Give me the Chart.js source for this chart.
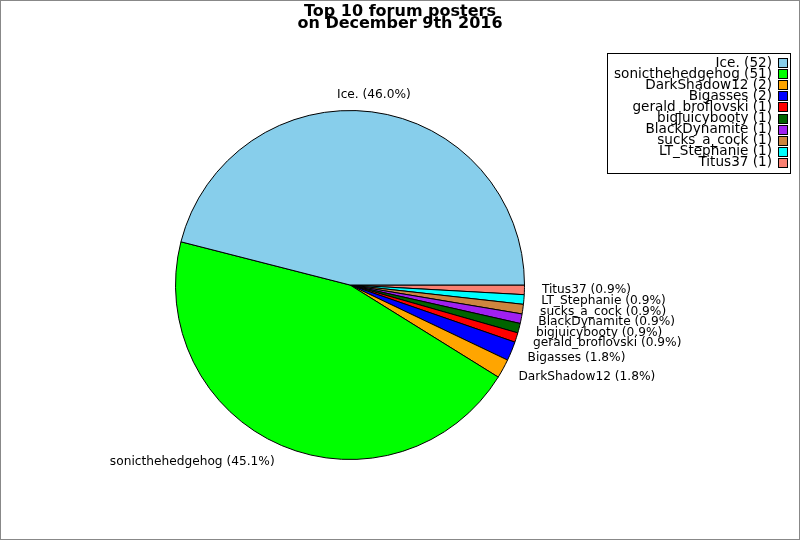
<!DOCTYPE html>
<html>
<head>
<meta charset="utf-8">
<title>Top 10 forum posters</title>
<script src="https://cdn.jsdelivr.net/npm/chart.js@4/dist/chart.umd.min.js"></script>
<style>
  html, body { margin: 0; padding: 0; background: #fff; }
  #wrap { width: 800px; height: 540px; position: relative; }
</style>
</head>
<body>
<div id="wrap"><canvas id="grafico"></canvas></div>
<script>
// Dados do gráfico
const posters = ['Ice.', 'sonicthehedgehog', 'DarkShadow12', 'Bigasses', 'gerald_broflovski',
                 'bigjuicybooty', 'BlackDynamite', 'sucks_a_cock', 'LT_Stephanie', 'Titus37'];
const posts = [52, 51, 2, 2, 1, 1, 1, 1, 1, 1];
const colors = ['#87CEEB', '#00FF00', '#FFA500', '#0000FF', '#FF0000',
                '#006400', '#A020F0', '#CD853F', '#00FFFF', '#FA8072'];
const titleLines = ['Top 10 forum posters', 'on December 9th 2016'];

const total = posts.reduce((a, b) => a + b, 0);

// Chart.js desenha no sentido horário, a referência no anti-horário: inverte a ordem
const revNames = posters.slice().reverse();
const revPosts = posts.slice().reverse();
const revColors = colors.slice().reverse();

// Plugin para título, legenda, rótulos e moldura
const extras = {
    id: 'extras',
    afterDraw(chart) {
        const ctx = chart.ctx;
        ctx.save();

        // moldura
        ctx.strokeStyle = '#888';
        ctx.lineWidth = 1;
        ctx.strokeRect(0.5, 0.5, 799, 539);

        // título
        ctx.fillStyle = '#000';
        ctx.font = 'bold 16px "DejaVu Sans"';
        ctx.textAlign = 'center';
        ctx.textBaseline = 'alphabetic';
        ctx.fillText(titleLines[0], 400, 16);
        ctx.fillText(titleLines[1], 400, 28);

        // rótulos das fatias
        ctx.font = '12.2px "DejaVu Sans"';
        ctx.textBaseline = 'middle';
        const meta = chart.getDatasetMeta(0);
        meta.data.forEach((arc, i) => {
            const p = arc.getProps(['x', 'y', 'startAngle', 'endAngle', 'outerRadius'], true);
            const mid = (p.startAngle + p.endAngle) / 2;
            const r = p.outerRadius * 1.1;
            const x = p.x + Math.cos(mid) * r;
            const y = p.y + Math.sin(mid) * r;
            const c = Math.cos(mid);
            ctx.textAlign = c > 0.2 ? 'left' : (c < -0.2 ? 'right' : 'center');
            const pct = (revPosts[i] / total * 100).toFixed(1);
            ctx.fillText(`${revNames[i]} (${pct}%)`, x, y);
        });

        // legenda
        ctx.strokeStyle = '#000';
        ctx.strokeRect(607.5, 53.5, 183, 120);
        ctx.font = '13.6px "DejaVu Sans"';
        ctx.textAlign = 'right';
        ctx.textBaseline = 'middle';
        posters.forEach((nome, i) => {
            const y = 63 + i * 11.1;
            ctx.fillStyle = '#000';
            ctx.fillText(`${nome} (${posts[i]})`, 772, y);
            ctx.fillStyle = colors[i];
            ctx.fillRect(778.5, Math.round(y) - 4.5, 9, 9);
            ctx.strokeRect(778.5, Math.round(y) - 4.5, 9, 9);
        });

        ctx.restore();
    }
};

new Chart(document.getElementById('grafico'), {
    type: 'pie',
    data: {
        labels: revNames,
        datasets: [{
            data: revPosts,
            backgroundColor: revColors,
            borderColor: '#000',
            borderWidth: 1
        }]
    },
    options: {
        responsive: true,
        maintainAspectRatio: false,
        animation: false,
        rotation: 90,
        layout: { padding: { top: 110, bottom: 80, left: 175, right: 275 } },
        plugins: {
            legend: { display: false },
            title: { display: false },
            tooltip: { enabled: false }
        }
    },
    plugins: [extras]
});
</script>
</body>
</html>
